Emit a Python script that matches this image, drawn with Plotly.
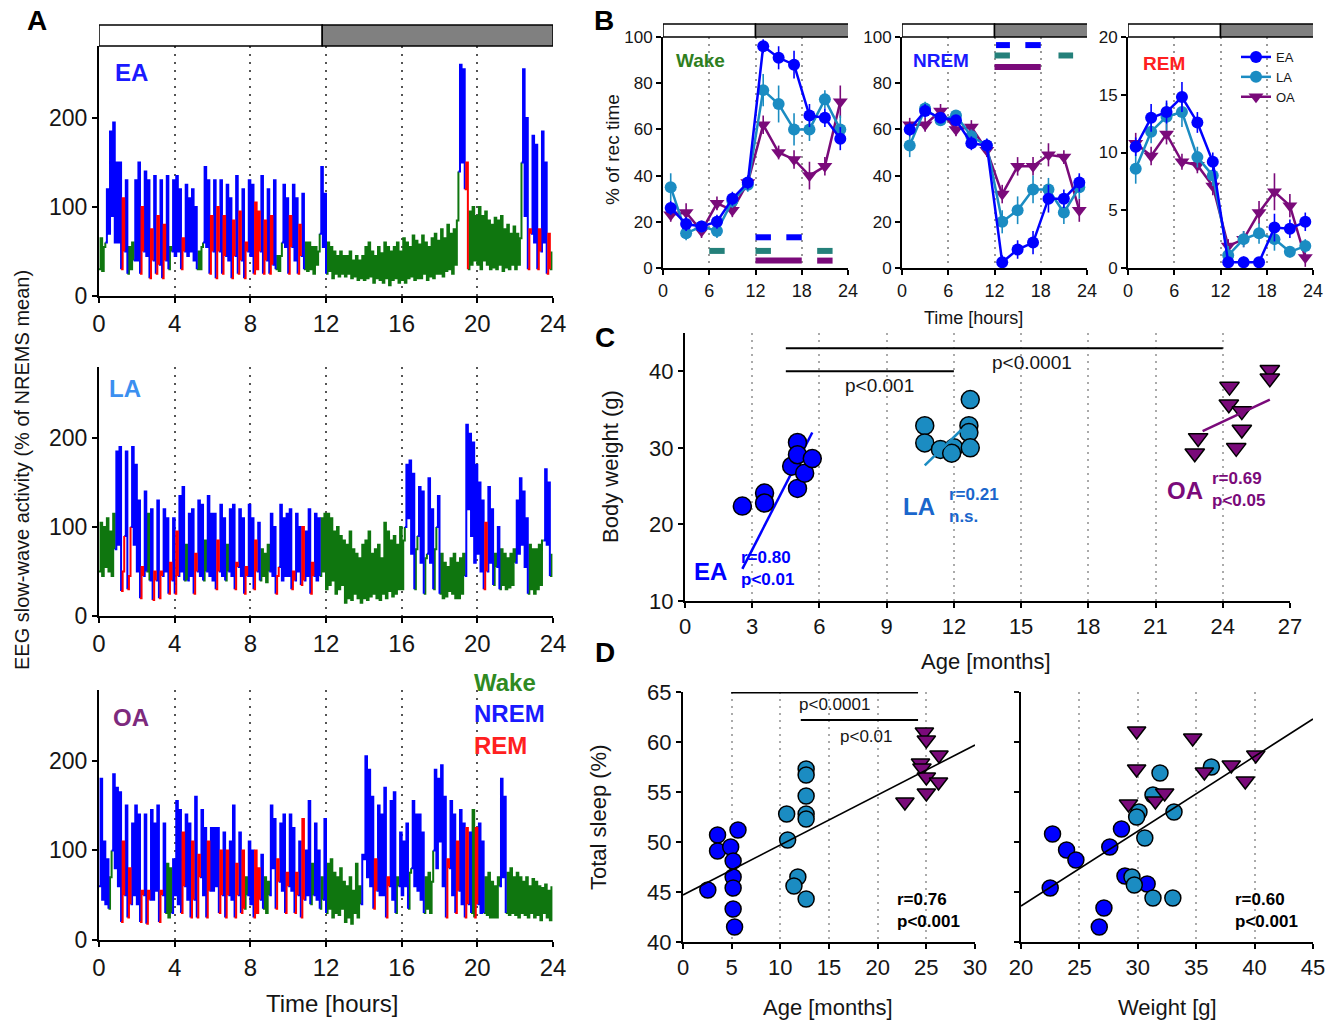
import plotly.graph_objects as go

W, H = 1343, 1022
FONT = "Liberation Sans, Arial, sans-serif"

# ---------------- Panel A: 24 h EEG slow-wave activity, 10-min bins ----------------
# state per bin: W = wake, N = NREM sleep, R = REM sleep; lo/hi = range of SWA in bin
EA_STATE = (
    "WWNNNN" "NRNWWN" "NRNNRN" "RNRNWN" "NNRNNN" "NWWNNR"
    "NRNRNN" "RNRNRN" "NRRNRN" "RNWWNN" "RNNRNW" "WWWWNN"
    "WWWWWW" "WWWWWW" "WWWWWW" "WWWWWW" "WWWWWW" "WWWWWW"
    "WWWWWW" "NNRWWW" "WWWWWW" "WWWWWW" "WWNNRN" "NRNNRW"
)
EA_LO = [
    30, 28, 60, 70, 90, 60,   60, 30, 50, 25, 30, 40,   40, 25, 50, 45, 20, 40,
    25, 35, 20, 40, 30, 50,   45, 50, 30, 50, 45, 50,   40, 30, 30, 60, 55, 25,
    50, 20, 50, 25, 45, 40,   20, 45, 25, 40, 20, 50,   45, 25, 30, 50, 25, 40,
    25, 35, 30, 28, 60, 55,   25, 55, 40, 25, 45, 30,   28, 30, 25, 35, 70, 55,
    25, 28, 20, 25, 22, 25,   22, 25, 20, 22, 18, 20,   18, 20, 22, 15, 20, 18,
    15, 20, 12, 18, 20, 15,   18, 15, 20, 22, 18, 20,   20, 25, 18, 22, 20, 25,
    25, 22, 28, 30, 25, 35,   140, 150, 120, 30, 35, 40, 35, 30, 40, 35, 30, 32,
    30, 35, 28, 32, 30, 35,   30, 35, 150, 90, 30, 70,  60, 30, 50, 60, 25, 30,
]
EA_HI = [
    65, 55, 120, 185, 195, 150,  150, 110, 130, 55, 60, 130,  150, 100, 140, 130, 75, 135,
    90, 130, 80, 135, 55, 130,   135, 120, 65, 125, 110, 120,  100, 50, 55, 145, 130, 90,
    130, 100, 130, 90, 125, 110,  85, 135, 95, 120, 60, 130,   125, 105, 95, 135, 85, 120,
    90, 130, 45, 45, 125, 110,   90, 125, 110, 80, 115, 60,    60, 55, 55, 50, 145, 115,
    60, 55, 50, 45, 50, 45,      45, 50, 40, 45, 40, 45,       55, 60, 50, 45, 55, 48,
    60, 55, 50, 55, 60, 50,      65, 60, 55, 68, 62, 58,       68, 60, 55, 65, 70, 62,
    75, 65, 80, 70, 75, 85,      260, 255, 150, 95, 100, 90,   100, 90, 95, 85, 80, 88,
    85, 90, 75, 80, 70, 78,      70, 65, 255, 200, 75, 180,    170, 75, 185, 150, 70, 50,
]
LA_STATE = (
    "WWWWWN" "NRNRNN" "NRNWNR" "NRNNRN" "RNNWNN" "RNNWNN"
    "NRNNWN" "NRNNRN" "NRNWWW" "NNRNNN" "NRNNRN" "NRNNWW"
    "WWWWWW" "WWWWWW" "WWWWWW" "WWWWWW" "WNNNWN" "NWNNWN"
    "WWWWWW" "WWNNNN" "NNRNNW" "NWWWWW" "NNNNWW" "WWWNNW"
)
LA_LO = [
    50, 45, 55, 50, 45, 75,   80, 28, 90, 30, 100, 80,  50, 20, 45, 50, 40, 18,
    40, 20, 45, 50, 25, 40,   25, 45, 50, 40, 40, 45,   25, 50, 45, 40, 50, 45,
    40, 30, 50, 45, 40, 50,   45, 30, 55, 45, 25, 45,   45, 30, 50, 40, 45, 38,
    50, 45, 25, 55, 40, 45,   45, 30, 40, 50, 35, 40,   45, 25, 45, 40, 45, 50,
    30, 35, 40, 25, 30, 35,   15, 20, 18, 25, 20, 15,   20, 18, 22, 25, 20, 18,
    25, 20, 28, 22, 25, 30,   30, 100, 110, 70, 30, 90, 60, 25, 70, 60, 30, 100,
    25, 20, 22, 28, 25, 20,   20, 25, 45, 120, 90, 60, 70, 50, 30, 50, 60, 35,
    55, 30, 35, 30, 32, 35,   60, 70, 80, 55, 25, 30,   25, 30, 35, 85, 80, 45,
]
LA_HI = [
    105, 100, 110, 95, 115, 185,  190, 50, 185, 45, 190, 170,  130, 55, 140, 115, 120, 50,
    130, 50, 120, 110, 60, 110,   95, 135, 145, 80, 115, 120,  70, 130, 125, 85, 135, 115,
    115, 85, 125, 110, 80, 120,   125, 60, 120, 110, 55, 125,  110, 85, 105, 75, 70, 80,
    115, 100, 45, 125, 110, 115,  120, 50, 115, 100, 100, 95,  120, 60, 115, 110, 110, 115,
    115, 110, 95, 100, 90, 85,    80, 95, 75, 70, 65, 80,      85, 95, 70, 75, 80, 65,
    105, 95, 85, 90, 80, 100,     85, 170, 175, 160, 75, 145,  140, 65, 155, 120, 75, 135,
    70, 60, 55, 65, 70, 60,       65, 70, 215, 205, 195, 170,  150, 130, 105, 145, 120, 70,
    100, 75, 70, 65, 70, 75,      130, 155, 140, 110, 80, 75,  75, 80, 85, 165, 150, 70,
]
OA_STATE = (
    "NNNWNN" "NRNRNN" "NRNRNN" "NRNWWN" "NNRNNR" "NRNNRN"
    "NNRNRN" "NRNRWN" "NRRNWW" "NNRNNR" "NNRNRN" "NWNNWN"
    "WWWWWW" "WWWWWN" "NNNRNN" "NRNNWN" "NNWNNN" "NWWWNN"
    "NNRNNR" "NNRNWR" "NNWWWW" "WNNWWW" "WWWWWW" "WWWWWW"
)
OA_LO = [
    60, 45, 40, 35, 100, 80,  60, 20, 50, 25, 40, 50,   40, 20, 50, 18, 45, 45,
    55, 20, 50, 30, 25, 30,   50, 40, 30, 60, 45, 25,   45, 25, 70, 50, 25, 55,
    55, 60, 30, 50, 25, 50,   45, 25, 50, 30, 35, 50,   40, 25, 30, 45, 35, 30,
    50, 80, 35, 65, 55, 30,   60, 55, 30, 50, 25, 45,   50, 40, 50, 45, 35, 45,
    30, 35, 25, 30, 28, 35,   20, 25, 18, 30, 25, 40,   90, 70, 60, 35, 55, 50,
    50, 25, 60, 45, 30, 60,   50, 60, 35, 80, 60, 55,   45, 30, 35, 30, 100, 80,
    110, 60, 25, 80, 50, 30,  55, 40, 25, 40, 30, 25,   40, 30, 30, 28, 25, 25,
    25, 60, 70, 30, 28, 30,   28, 25, 30, 28, 25, 30,   25, 28, 22, 30, 25, 22,
]
OA_HI = [
    180, 110, 90, 70, 185, 170,   165, 110, 150, 80, 130, 150,  140, 55, 140, 55, 145, 130,
    150, 55, 130, 85, 80, 90,     155, 145, 120, 140, 130, 110, 160, 95, 145, 125, 110, 125,
    125, 125, 100, 120, 100, 110, 150, 85, 120, 100, 70, 110,   100, 100, 80, 95, 70, 65,
    150, 135, 90, 130, 140, 75,   140, 125, 75, 110, 135, 100,  155, 85, 130, 100, 70, 135,
    85, 90, 75, 70, 80, 65,       60, 70, 55, 85, 60, 95,       205, 190, 160, 90, 150, 140,
    170, 70, 155, 165, 70, 120,   110, 130, 75, 155, 140, 140,  120, 70, 75, 65, 190, 180,
    195, 160, 90, 155, 140, 110,  145, 130, 125, 120, 145, 125, 130, 110, 70, 75, 65, 60,
    70, 180, 160, 75, 80, 70,     75, 70, 65, 70, 60, 68,       65, 60, 58, 62, 55, 60,
]

# ---------------- Panel B: % of recording time in 2-h bins ----------------
B_HOURS = [1, 3, 5, 7, 9, 11, 13, 15, 17, 19, 21, 23]
WAKE_EA = [26, 19, 18, 20, 30, 37, 96, 91, 88, 66, 65, 56]
WAKE_LA = [35, 15, 18, 16, 29, 36, 77, 71, 60, 60, 73, 60]
WAKE_OA = [23, 24, 16, 28, 25, 37, 62, 50, 47, 40, 44, 72]
WAKE_EA_SEM = [3, 3, 2, 3, 3, 3, 3, 5, 6, 5, 4, 5]
WAKE_LA_SEM = [6, 3, 2, 3, 3, 3, 7, 8, 7, 5, 4, 6]
WAKE_OA_SEM = [3, 4, 3, 3, 3, 3, 4, 3, 4, 6, 4, 7]
NREM_EA = [60, 68, 65, 64, 54, 53, 2.5, 8, 11, 30, 30, 37]
NREM_LA = [53, 69, 64, 66, 57, 53, 20, 25, 34, 34, 24, 35]
NREM_OA = [62, 62, 68, 60, 61, 51, 32, 44, 44, 49, 48, 25]
NREM_EA_SEM = [3, 3, 2, 2, 3, 3, 3, 4, 5, 6, 4, 4]
NREM_LA_SEM = [5, 3, 2, 2, 3, 3, 5, 6, 6, 5, 5, 5]
NREM_OA_SEM = [3, 3, 3, 3, 3, 3, 4, 4, 4, 5, 3, 5]
REM_EA = [10.5, 13.0, 13.5, 14.8, 12.6, 9.2, 0.5, 0.5, 0.5, 3.5, 3.4, 4.0]
REM_LA = [8.6, 11.8, 13.1, 13.5, 9.6, 8.0, 1.1, 2.5, 3.0, 2.5, 1.4, 1.9]
REM_OA = [10.8, 9.7, 11.6, 9.2, 8.9, 7.1, 1.9, 2.5, 4.8, 6.6, 5.4, 0.9]
REM_EA_SEM = [0.8, 1.2, 1.0, 1.3, 0.9, 0.8, 0.4, 0.5, 0.4, 1.2, 0.8, 0.8]
REM_LA_SEM = [1.3, 1.0, 1.2, 1.3, 0.9, 0.9, 0.8, 0.7, 0.9, 1.0, 0.5, 0.6]
REM_OA_SEM = [0.9, 0.8, 0.9, 0.7, 0.7, 0.8, 0.6, 0.7, 1.0, 1.6, 1.0, 0.8]

# significant-difference bars (group, start h, end h, level)
WAKE_SIG_GROUP = ["EA", "EA", "LA", "LA", "LA", "OA", "OA"]
WAKE_SIG_START = [12, 16, 6, 12, 20, 12, 20]
WAKE_SIG_END = [14, 18, 8, 14, 22, 18, 22]
WAKE_SIG_LEVEL = [13.3, 13.3, 7.4, 7.4, 7.4, 3.2, 3.2]
NREM_SIG_GROUP = ["EA", "EA", "LA", "LA", "OA"]
NREM_SIG_START = [12.2, 16, 12, 20.3, 12]
NREM_SIG_END = [14, 18, 14, 22.2, 18]
NREM_SIG_LEVEL = [96.5, 96.5, 92, 92, 87]

# ---------------- Panel C: body weight vs age ----------------
C_EA_AGE = [2.56, 3.55, 3.55, 5.02, 4.76, 5.02, 5.02, 5.34, 5.68]
C_EA_WT = [22.4, 24.1, 22.8, 30.7, 27.6, 29.1, 24.7, 26.7, 28.6]
C_LA_AGE = [10.7, 10.7, 11.4, 12.0, 11.9, 12.73, 12.67, 12.67, 12.73]
C_LA_WT = [32.9, 30.65, 29.8, 30.0, 29.3, 36.3, 32.9, 32.0, 30.0]
C_OA_AGE = [22.9, 22.75, 24.3, 24.27, 24.85, 24.85, 24.6, 26.1, 26.1]
C_OA_WT = [31.3, 29.3, 38.0, 35.7, 34.8, 32.4, 30.0, 40.2, 39.1]
# regression line end points (x0, x1), (y0, y1)
C_FIT_EA = ([2.56, 5.68], [14.2, 32.0])
C_FIT_LA = ([10.7, 12.35], [27.7, 32.4])
C_FIT_OA = ([23.1, 26.1], [32.2, 36.3])

# ---------------- Panel D: total sleep vs age / weight ----------------
DL_EA_AGE = [2.55, 3.55, 3.55, 4.9, 5.15, 5.15, 5.15, 5.15, 5.3, 5.65]
DL_EA_SLEEP = [45.2, 50.7, 49.1, 49.5, 48.1, 46.5, 45.4, 43.3, 41.5, 51.2]
DL_LA_AGE = [10.65, 10.75, 11.8, 11.4, 12.65, 12.65, 12.65, 12.65, 12.65, 12.65]
DL_LA_SLEEP = [52.8, 50.2, 46.5, 45.6, 57.3, 56.7, 54.6, 52.8, 52.3, 44.3]
DL_OA_AGE = [24.8, 25.0, 26.3, 24.4, 24.55, 25.0, 26.25, 22.8, 25.0]
DL_OA_SLEEP = [61.0, 60.2, 58.7, 57.9, 57.4, 56.5, 56.0, 54.0, 54.9]
DR_EA_WT = [22.5, 22.7, 23.9, 24.7, 27.6, 28.6, 27.1, 26.7, 28.9, 30.8]
DR_EA_SLEEP = [45.4, 50.8, 49.2, 48.2, 49.5, 51.3, 43.4, 41.5, 46.6, 45.8]
DR_LA_WT = [31.9, 31.3, 30.1, 29.9, 33.1, 30.6, 29.5, 29.7, 31.3, 33.0, 36.3]
DR_LA_SLEEP = [56.9, 54.7, 53.0, 52.5, 53.0, 50.4, 46.5, 45.7, 44.4, 44.4, 57.5]
DR_OA_WT = [29.9, 34.7, 29.9, 35.7, 38.0, 40.1, 39.2, 29.2, 31.5, 32.3]
DR_OA_SLEEP = [61.1, 60.4, 57.3, 57.0, 57.7, 58.7, 56.1, 53.8, 54.1, 54.9]
D_FIT_AGE = ([0, 30], [44.7, 59.7])
D_FIT_WT = ([20, 45], [43.6, 62.3])

# ---------------- colours ----------------
C_WAKE = "#0f760f"
C_NREM = "#0000ff"
C_REM = "#ff0000"
C_EA = "#0000ff"
C_LA = "#1b8cc2"
C_LA_TEXT = "#1a66cc"
C_OA = "#7a0a7a"
C_SIG_LA = "#24807a"
GROUP_COL = {"EA": C_EA, "LA": C_SIG_LA, "OA": C_OA}


def px_x(x):
    return x / W


def px_y(y):
    return 1 - y / H


fig = go.Figure()


# ---- A: colour-coded SWA traces (each bin drawn as a lo -> hi step) ----
def add_swa(lo, hi, states, xa, ya):
    n = len(lo)
    dt = 24 / n
    xs, ys, st = [], [], []
    for i in range(n):
        xs += [i * dt, (i + 0.5) * dt]
        ys += [lo[i], hi[i]]
        st += [states[i], states[i]]
    m = len(xs)
    for code, col in (("W", C_WAKE), ("N", C_NREM), ("R", C_REM)):
        yy = []
        for k in range(m):
            # a step is coloured by the state it leaves from
            keep = st[k] == code or (k > 0 and st[k - 1] == code)
            yy.append(ys[k] if keep else None)
        fig.add_trace(go.Scatter(
            x=xs, y=yy, mode="lines", xaxis=xa, yaxis=ya,
            line=dict(color=col, width=2, shape="hv"),
            connectgaps=False, showlegend=False, hoverinfo="skip"))


add_swa(EA_LO, EA_HI, EA_STATE, "x", "y")
add_swa(LA_LO, LA_HI, LA_STATE, "x2", "y2")
add_swa(OA_LO, OA_HI, OA_STATE, "x3", "y3")


# ---- B: time course with SEM ----
def add_group(x, y, err, col, sym, xa, ya, name, legend):
    fig.add_trace(go.Scatter(
        x=x, y=y, mode="lines+markers", xaxis=xa, yaxis=ya, name=name,
        line=dict(color=col, width=2.5),
        marker=dict(color=col, size=12 if sym == "circle" else 13, symbol=sym),
        error_y=dict(type="data", array=err, color=col, thickness=1.6, width=0),
        showlegend=legend, hoverinfo="skip"))


for xa, ya, ea, la, oa, eae, lae, oae, leg in (
    ("x4", "y4", WAKE_EA, WAKE_LA, WAKE_OA, WAKE_EA_SEM, WAKE_LA_SEM, WAKE_OA_SEM, False),
    ("x5", "y5", NREM_EA, NREM_LA, NREM_OA, NREM_EA_SEM, NREM_LA_SEM, NREM_OA_SEM, False),
    ("x6", "y6", REM_EA, REM_LA, REM_OA, REM_EA_SEM, REM_LA_SEM, REM_OA_SEM, True),
):
    add_group(B_HOURS, oa, oae, C_OA, "triangle-down", xa, ya, "OA", leg)
    add_group(B_HOURS, la, lae, C_LA, "circle", xa, ya, "LA", leg)
    add_group(B_HOURS, ea, eae, C_EA, "circle", xa, ya, "EA", leg)

shapes = []
for grp, s, e, lev in zip(WAKE_SIG_GROUP, WAKE_SIG_START, WAKE_SIG_END, WAKE_SIG_LEVEL):
    shapes.append(dict(type="line", xref="x4", yref="y4", x0=s, x1=e, y0=lev, y1=lev,
                       line=dict(color=GROUP_COL[grp], width=6)))
for grp, s, e, lev in zip(NREM_SIG_GROUP, NREM_SIG_START, NREM_SIG_END, NREM_SIG_LEVEL):
    shapes.append(dict(type="line", xref="x5", yref="y5", x0=s, x1=e, y0=lev, y1=lev,
                       line=dict(color=GROUP_COL[grp], width=6)))


# ---- C and D scatter ----
def add_points(x, y, col, sym, size, xa, ya):
    fig.add_trace(go.Scatter(
        x=x, y=y, mode="markers", xaxis=xa, yaxis=ya,
        marker=dict(color=col, size=size, symbol=sym, line=dict(color="black", width=1.5)),
        showlegend=False, hoverinfo="skip"))


def add_fit(fit, col, width, xa, ya):
    fig.add_trace(go.Scatter(
        x=fit[0], y=fit[1], mode="lines", xaxis=xa, yaxis=ya,
        line=dict(color=col, width=width), showlegend=False, hoverinfo="skip"))


add_fit(C_FIT_EA, C_EA, 2.5, "x7", "y7")
add_points(C_EA_AGE, C_EA_WT, C_EA, "circle", 18, "x7", "y7")
add_points(C_LA_AGE, C_LA_WT, C_LA, "circle", 18, "x7", "y7")
add_fit(C_FIT_LA, C_LA, 2.5, "x7", "y7")
add_points(C_OA_AGE, C_OA_WT, C_OA, "triangle-down", 17, "x7", "y7")
add_fit(C_FIT_OA, C_OA, 2.5, "x7", "y7")

add_points(DL_EA_AGE, DL_EA_SLEEP, C_EA, "circle", 16, "x8", "y8")
add_points(DL_LA_AGE, DL_LA_SLEEP, C_LA, "circle", 16, "x8", "y8")
add_points(DL_OA_AGE, DL_OA_SLEEP, C_OA, "triangle-down", 16, "x8", "y8")
add_fit(D_FIT_AGE, "black", 1.6, "x8", "y8")
add_points(DR_EA_WT, DR_EA_SLEEP, C_EA, "circle", 16, "x9", "y9")
add_points(DR_LA_WT, DR_LA_SLEEP, C_LA, "circle", 16, "x9", "y9")
add_points(DR_OA_WT, DR_OA_SLEEP, C_OA, "triangle-down", 16, "x9", "y9")
add_fit(D_FIT_WT, "black", 1.6, "x9", "y9")

# significance brackets in C and D
for xr, yr, x0, x1, yv in (("x7", "y7", 4.5, 24.0, 43.0), ("x7", "y7", 4.5, 12.0, 40.0),
                           ("x8", "y8", 4.95, 24.15, 64.95), ("x8", "y8", 12.1, 24.15, 62.2)):
    shapes.append(dict(type="line", xref=xr, yref=yr, x0=x0, x1=x1, y0=yv, y1=yv,
                       line=dict(color="black", width=2)))


# light/dark bars
def light_dark(xr, x_mid, x_end, y_bot, y_top):
    shapes.append(dict(type="rect", xref=xr, yref="paper", x0=0, x1=x_mid,
                       y0=px_y(y_bot), y1=px_y(y_top), fillcolor="white",
                       line=dict(color="black", width=1.5)))
    shapes.append(dict(type="rect", xref=xr, yref="paper", x0=x_mid, x1=x_end,
                       y0=px_y(y_bot), y1=px_y(y_top), fillcolor="#808080",
                       line=dict(color="black", width=1.5)))


light_dark("x", 11.8, 24, 46, 25)
light_dark("x4", 12, 24.3, 37, 24)
light_dark("x5", 12, 24.3, 37, 24)
light_dark("x6", 12, 24.3, 37, 24)


# ---- axes ----
def axis(domain, rng, tickvals, size, anchor, grid=False, gridcolor="#555555",
         labels=True, gridwidth=1.5, griddash="2px,5px"):
    return dict(domain=domain, range=rng, tickvals=tickvals, anchor=anchor,
                showline=True, linecolor="black", linewidth=2,
                ticks="outside", ticklen=5, tickwidth=2, tickcolor="black",
                showticklabels=labels, zeroline=False, automargin=False,
                showgrid=grid, gridcolor=gridcolor, griddash=griddash, gridwidth=gridwidth,
                tickfont=dict(family=FONT, size=size, color="#151515"),
                fixedrange=True)


hA = list(range(0, 25, 4))
hB = [0, 6, 12, 18, 24]
xA = [px_x(99), px_x(553)]
layout_axes = dict(
    xaxis=axis(xA, [0, 24], hA, 24, "y", True, "#555555", gridwidth=1.5, griddash="2px,6px"),
    yaxis=axis([px_y(296), px_y(46)], [0, 281], [0, 100, 200], 23, "x"),
    xaxis2=axis(xA, [0, 24], hA, 24, "y2", True, "#555555", gridwidth=1.5, griddash="2px,6px"),
    yaxis2=axis([px_y(616), px_y(367)], [0, 280], [0, 100, 200], 23, "x2"),
    xaxis3=axis(xA, [0, 24], hA, 24, "y3", True, "#555555", gridwidth=1.5, griddash="2px,6px"),
    yaxis3=axis([px_y(940), px_y(690)], [0, 279], [0, 100, 200], 23, "x3"),
    xaxis4=axis([px_x(663), px_x(848)], [0, 24], hB, 18, "y4", True, "#999999"),
    yaxis4=axis([px_y(268), px_y(37)], [0, 100], [0, 20, 40, 60, 80, 100], 17, "x4"),
    xaxis5=axis([px_x(902), px_x(1087)], [0, 24], hB, 18, "y5", True, "#999999"),
    yaxis5=axis([px_y(268), px_y(37)], [0, 100], [0, 20, 40, 60, 80, 100], 17, "x5"),
    xaxis6=axis([px_x(1128), px_x(1313)], [0, 24], hB, 18, "y6", True, "#999999"),
    yaxis6=axis([px_y(268), px_y(37)], [0, 20], [0, 5, 10, 15, 20], 17, "x6"),
    xaxis7=axis([px_x(685), px_x(1290)], [0, 27], list(range(0, 28, 3)), 22, "y7",
                True, "#aaaaaa"),
    yaxis7=axis([px_y(601), px_y(333)], [10, 45], [10, 20, 30, 40], 22, "x7"),
    xaxis8=axis([px_x(683), px_x(975)], [0, 30], list(range(0, 31, 5)), 22, "y8",
                True, "#aaaaaa"),
    yaxis8=axis([px_y(942), px_y(692)], [40, 65], list(range(40, 66, 5)), 22, "x8"),
    xaxis9=axis([px_x(1021), px_x(1313)], [20, 45], list(range(20, 46, 5)), 22, "y9",
                True, "#aaaaaa"),
    yaxis9=axis([px_y(942), px_y(692)], [40, 65], list(range(40, 66, 5)), 22, "x9",
                labels=False),
)

# ---- text ----
annotations = []


def text_px(txt, x, y, size, color="#151515", bold=False, angle=0, xanchor="center"):
    annotations.append(dict(
        text=f"<b>{txt}</b>" if bold else txt, x=px_x(x), y=px_y(y),
        xref="paper", yref="paper", xanchor=xanchor, yanchor="middle",
        textangle=angle, showarrow=False,
        font=dict(family=FONT, size=size, color=color)))


def text_ax(txt, x, y, xr, yr, size, color="#151515", bold=False, xanchor="center",
            align="left"):
    annotations.append(dict(
        text=f"<b>{txt}</b>" if bold else txt, x=x, y=y, xref=xr, yref=yr,
        xanchor=xanchor, yanchor="middle", align=align, showarrow=False,
        font=dict(family=FONT, size=size, color=color)))


# panel letters
for letter, x, y in (("A", 37, 20), ("B", 604, 20), ("C", 605, 338), ("D", 605, 652)):
    text_px(letter, x, y, 28, "black", bold=True)

# panel A
text_px("EEG slow-wave activity (% of NREMS mean)", 22, 470, 20, angle=-90)
text_px("Time [hours]", 332, 1003, 24)
text_px("EA", 131, 73, 24, "#1a1aff", bold=True)
text_px("LA", 125, 388, 24, "#3b8ff0", bold=True)
text_px("OA", 131, 717, 24, "#7d2a7d", bold=True)
text_px("Wake", 472, 682, 24, "#2f8a22", bold=True, xanchor="left")
text_px("NREM", 472, 713, 24, "#1a1aff", bold=True, xanchor="left")
text_px("REM", 472, 745, 24, "#ff2020", bold=True, xanchor="left")

# panel B
text_px("% of rec time", 612, 150, 19, angle=-90)
text_px("Time [hours]", 973, 318, 18)
text_px("Wake", 700, 60, 19, "#2f7f1e", bold=True)
text_px("NREM", 941, 60, 19, "#1a1aff", bold=True)
text_px("REM", 1164, 63, 19, "#ff2020", bold=True)

# panel C
text_px("Body weight (g)", 610, 467, 22, angle=-90)
text_px("Age [months]", 986, 661, 22)
text_ax("p<0.0001", 15.5, 41.2, "x7", "y7", 19)
text_ax("p<0.001", 8.7, 38.1, "x7", "y7", 19)
text_ax("EA", 1.15, 13.8, "x7", "y7", 24, C_EA, bold=True)
text_ax("r=0.80<br>p<0.01", 2.4, 14.2, "x7", "y7", 17, C_EA, bold=True, xanchor="left")
text_ax("LA", 10.45, 22.4, "x7", "y7", 24, C_LA_TEXT, bold=True)
text_ax("r=0.21<br>n.s.", 11.7, 22.5, "x7", "y7", 17, C_LA_TEXT, bold=True, xanchor="left")
text_ax("OA", 22.3, 24.4, "x7", "y7", 24, C_OA, bold=True)
text_ax("r=0.69<br>p<0.05", 23.45, 24.5, "x7", "y7", 17, C_OA, bold=True, xanchor="left")

# panel D
text_px("Total sleep (%)", 598, 817, 22, angle=-90)
text_px("Age [months]", 828, 1007, 22)
text_px("Weight [g]", 1167, 1007, 22)
text_ax("p<0.0001", 15.6, 63.8, "x8", "y8", 17)
text_ax("p<0.01", 18.8, 60.6, "x8", "y8", 17)
text_ax("r=0.76<br>p<0.001", 28.7, 43.2, "x8", "y8", 17, "black", bold=True,
        xanchor="right", align="left")
text_ax("r=0.60<br>p<0.001", 43.9, 43.2, "x9", "y9", 17, "black", bold=True,
        xanchor="right", align="left")

fig.update_layout(
    width=W, height=H, autosize=False,
    margin=dict(l=0, r=0, t=0, b=0, autoexpand=False),
    paper_bgcolor="white", plot_bgcolor="white",
    font=dict(family=FONT, color="#151515"),
    shapes=shapes, annotations=annotations,
    showlegend=True,
    legend=dict(x=px_x(1236), y=px_y(42), xanchor="left", yanchor="top",
                bgcolor="rgba(0,0,0,0)", font=dict(family=FONT, size=13),
                tracegroupgap=0, itemwidth=30, traceorder="reversed"),
    **layout_axes,
)

fig.write_html("out.html")
